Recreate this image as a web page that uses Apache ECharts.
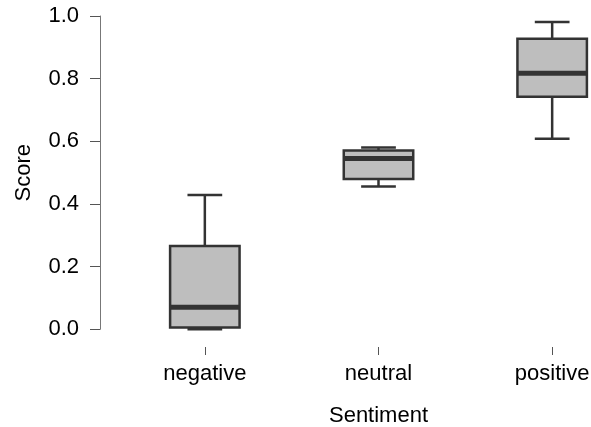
<!DOCTYPE html>
<html>
<head>
<meta charset="utf-8">
<script src="https://cdn.jsdelivr.net/npm/echarts@6/dist/echarts.min.js"></script>
<style>
html,body{margin:0;padding:0;background:#fff;}
#main{width:591px;height:427px;}
</style>
</head>
<body>
<div id="main"></div>
<script>
var categories = ['negative', 'neutral', 'positive'];
var whiskerLow = [0.000, 0.456, 0.608];
var q1Values = [0.006, 0.480, 0.742];
var medianValues = [0.070, 0.545, 0.817];
var q3Values = [0.266, 0.571, 0.927];
var whiskerHigh = [0.429, 0.580, 0.981];
var yTicks = [0.0, 0.2, 0.4, 0.6, 0.8, 1.0];

var data = categories.map(function (c, i) {
  return [i, whiskerLow[i], q1Values[i], medianValues[i], q3Values[i], whiskerHigh[i]];
});

var FONT = '"Liberation Sans", Arial, sans-serif';
var chart = echarts.init(document.getElementById('main'), null, {renderer: 'canvas'});

function renderItem(params, api) {
  var x = api.value(0);
  var pLow = api.coord([x, api.value(1)]);
  var pQ1 = api.coord([x, api.value(2)]);
  var pMed = api.coord([x, api.value(3)]);
  var pQ3 = api.coord([x, api.value(4)]);
  var pHigh = api.coord([x, api.value(5)]);
  var band = api.size([1, 0])[0];
  var boxW = band * 0.4;
  var capW = band * 0.2;
  var cx = pMed[0];
  var stroke = '#333333';
  var lw = 2.5;
  return {
    type: 'group',
    children: [
      {type: 'line', shape: {x1: cx, y1: pQ3[1], x2: cx, y2: pHigh[1]}, style: {stroke: stroke, lineWidth: lw}},
      {type: 'line', shape: {x1: cx, y1: pQ1[1], x2: cx, y2: pLow[1]}, style: {stroke: stroke, lineWidth: lw}},
      {type: 'line', shape: {x1: cx - capW / 2, y1: pHigh[1], x2: cx + capW / 2, y2: pHigh[1]}, style: {stroke: stroke, lineWidth: lw}},
      {type: 'line', shape: {x1: cx - capW / 2, y1: pLow[1], x2: cx + capW / 2, y2: pLow[1]}, style: {stroke: stroke, lineWidth: lw}},
      {type: 'rect', shape: {x: cx - boxW / 2, y: pQ3[1], width: boxW, height: pQ1[1] - pQ3[1]}, style: {fill: '#BEBEBE', stroke: stroke, lineWidth: lw}},
      {type: 'line', shape: {x1: cx - boxW / 2, y1: pMed[1], x2: cx + boxW / 2, y2: pMed[1]}, style: {stroke: stroke, lineWidth: 5}}
    ]
  };
}

var option = {
  animation: false,
  backgroundColor: '#ffffff',
  grid: [
    {left: 118, top: 16, width: 521, height: 313.3, containLabel: false, outerBoundsMode: 'none'},
    {left: 118, top: 16, width: 521, height: 331, containLabel: false, outerBoundsMode: 'none'}
  ],
  xAxis: [{
    type: 'category',
    gridIndex: 0,
    data: categories,
    boundaryGap: true,
    show: false
  }, {
    type: 'category',
    gridIndex: 1,
    data: categories,
    boundaryGap: true,
    axisLine: {show: false},
    axisTick: {show: true, alignWithLabel: true, length: 8, lineStyle: {color: '#555', width: 1}},
    axisLabel: {color: '#000', fontSize: 22, fontFamily: FONT, margin: 16},
    splitLine: {show: false},
    name: 'Sentiment',
    nameLocation: 'middle',
    nameGap: 58,
    nameTextStyle: {color: '#000', fontSize: 22, fontFamily: FONT}
  }],
  yAxis: [{
    type: 'value',
    gridIndex: 0,
    min: 0,
    max: 1,
    interval: 0.2,
    offset: 18,
    axisLine: {show: true, lineStyle: {color: '#777', width: 1}},
    axisTick: {show: true, length: 10, lineStyle: {color: '#555', width: 1}},
    axisLabel: {color: '#000', fontSize: 22, fontFamily: FONT, margin: 21,
      formatter: function (v) { return v.toFixed(1); }},
    splitLine: {show: false},
    name: 'Score',
    nameLocation: 'middle',
    nameGap: 65,
    nameTextStyle: {color: '#000', fontSize: 22, fontFamily: FONT}
  }, {
    type: 'value',
    gridIndex: 1,
    min: 0,
    max: 1,
    show: false
  }],
  series: [{
    type: 'custom',
    xAxisIndex: 0,
    yAxisIndex: 0,
    renderItem: renderItem,
    data: data,
    encode: {x: 0, y: [1, 2, 3, 4, 5]},
    clip: false
  }]
};
chart.setOption(option);
</script>
</body>
</html>
